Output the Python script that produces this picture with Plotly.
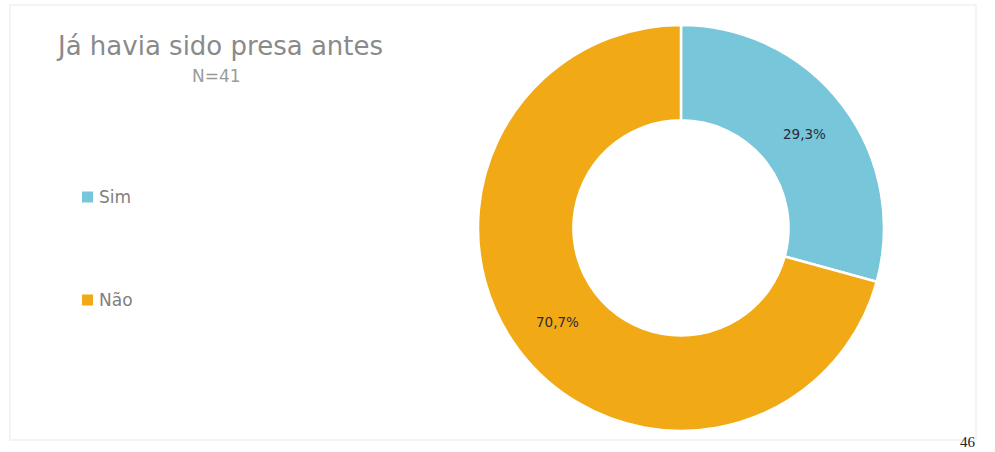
import plotly.graph_objects as go

labels = ["Sim", "Não"]
values = [12, 29]
colors = ["#78C6DA", "#F1A915"]
title_text = "Já havia sido presa antes"
subtitle_text = "N=41"
page_number = "46"

W, H = 995, 452

fig = go.Figure()

fig.add_trace(go.Pie(
    labels=labels,
    values=values,
    hole=0.53,
    sort=False,
    direction="clockwise",
    rotation=0,
    marker=dict(colors=colors, line=dict(color="white", width=2.5)),
    texttemplate="%{percent:.1%}",
    textposition="inside",
    insidetextorientation="horizontal",
    textfont=dict(family="DejaVu Sans", size=13.5, color="#2b2b35"),
    domain=dict(x=[0.4804, 0.8884], y=[0.0465, 0.945]),
    showlegend=False,
    hoverinfo="label+percent",
))

# legend: swatches + labels placed like the original
legend_y_px = [197, 300]
annotations = [
    dict(text=title_text, x=219 / W, y=1 - 46 / H, xref="paper", yref="paper",
         showarrow=False, xanchor="center", yanchor="middle",
         font=dict(family="DejaVu Sans", size=26, color="#8a8a8a")),
    dict(text=subtitle_text, x=216 / W, y=1 - 76 / H, xref="paper", yref="paper",
         showarrow=False, xanchor="center", yanchor="middle",
         font=dict(family="DejaVu Sans", size=17, color="#9a9a9a")),
    dict(text=page_number, x=968 / W, y=1 - 442 / H, xref="paper", yref="paper",
         showarrow=False, xanchor="center", yanchor="middle",
         font=dict(family="Liberation Serif", size=15, color="#222222")),
]
shapes = [
    dict(type="rect", xref="paper", yref="paper",
         x0=10 / W, x1=976 / W, y0=1 - 440 / H, y1=1 - 5 / H,
         line=dict(color="#f1f1f1", width=1.5), fillcolor="rgba(0,0,0,0)", layer="below"),
]
for lab, col, ypx in zip(labels, colors, legend_y_px):
    shapes.append(dict(type="rect", xref="paper", yref="paper",
                       x0=82 / W, x1=93 / W, y0=1 - (ypx + 5.5) / H, y1=1 - (ypx - 5.5) / H,
                       line=dict(width=0), fillcolor=col))
    annotations.append(dict(text=lab, x=97 / W, y=1 - ypx / H, xref="paper", yref="paper",
                            showarrow=False, xanchor="left", yanchor="middle",
                            font=dict(family="DejaVu Sans", size=17, color="#808080")))

fig.update_layout(
    width=W, height=H,
    margin=dict(l=0, r=0, t=0, b=0),
    paper_bgcolor="white", plot_bgcolor="white",
    separators=",.",
    showlegend=False,
    annotations=annotations,
    shapes=shapes,
)

fig.write_html("out.html")
